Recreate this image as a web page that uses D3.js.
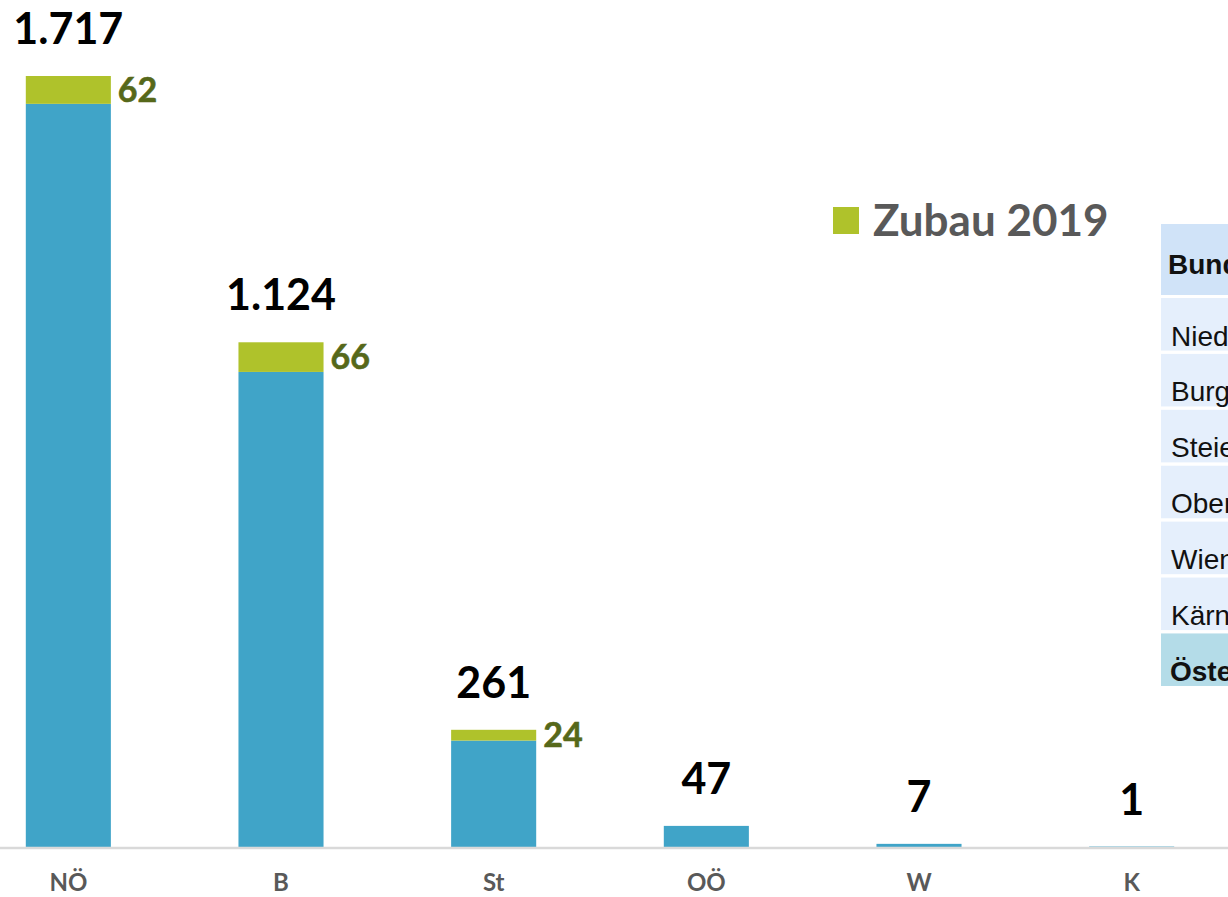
<!DOCTYPE html>
<html>
<head>
<meta charset="utf-8">
<script src="https://cdn.jsdelivr.net/npm/d3@7"></script>
<style>
    html, body { margin: 0; padding: 0; background: #ffffff; overflow: hidden; }
    svg { display: block; }
</style>
</head>
<body>
<svg id="chart"></svg>
<script>
// data
var categories = ["NÖ", "B", "St", "OÖ", "W", "K"];
var totals = [1717, 1124, 261, 47, 7, 1];
var zubau = [62, 66, 24, 0, 0, 0];
var legendLabel = "Zubau 2019";

// side table (cut off at the right edge in the original)
var tableHeader = "Bundesland";
var tableRows = ["Niederösterreich", "Burgenland", "Steiermark", "Oberösterreich", "Wien", "Kärnten"];
var tableTotal = "Österreich";

var width = 1228;
var height = 897;
var baseline = 847;

var deFormat = d3.formatLocale({
    decimal: ",",
    thousands: ".",
    grouping: [3],
    currency: ["", " €"]
}).format(",d");

var svg = d3.select("#chart")
    .attr("width", width)
    .attr("height", height);

// rows for the stack: the total minus the new part, then the new part
var rows = categories.map(function(c, i) {
    return { cat: c, bestand: totals[i] - zubau[i], zubau: zubau[i], total: totals[i] };
});

var series = d3.stack().keys(["bestand", "zubau"])(rows);

var x = d3.scaleBand()
    .domain(categories)
    .range([-38, 1238])
    .paddingInner(0.6)
    .paddingOuter(0.3);

var y = d3.scaleLinear()
    .domain([0, 1717])
    .range([baseline, 76]);

var colors = { bestand: "#40a4c8", zubau: "#afc22b" };

// bars
svg.append("g")
    .attr("class", "bars")
    .selectAll("g")
    .data(series).enter()
    .append("g")
    .attr("fill", d => colors[d.key])
    .selectAll("rect")
    .data(d => d.filter(p => p[1] > p[0])).enter()
    .append("rect")
    .attr("x", d => x(d.data.cat))
    .attr("y", d => y(d[1]))
    .attr("width", x.bandwidth())
    .attr("height", d => y(d[0]) - y(d[1]));

// x axis line + labels
var xAxis = svg.append("g")
    .attr("class", "axis axis--x")
    .attr("transform", "translate(0," + (baseline + 1) + ")")
    .call(d3.axisBottom(x).tickSize(0).tickPadding(26));

xAxis.select(".domain")
    .attr("d", "M0,0H" + width)
    .attr("stroke", "#d9d9d9")
    .attr("stroke-width", 2.5);

xAxis.selectAll("text")
    .attr("font-family", "Lato, 'Open Sans', sans-serif")
    .attr("font-weight", "bold")
    .attr("font-size", 24)
    .attr("fill", "#595959");

// total labels above each bar
svg.append("g")
    .selectAll("text")
    .data(rows).enter()
    .append("text")
    .attr("x", d => x(d.cat) + x.bandwidth() / 2)
    .attr("y", d => y(d.total) - 32)
    .attr("text-anchor", "middle")
    .attr("font-family", "Lato, 'Open Sans', sans-serif")
    .attr("font-weight", "bold")
    .attr("font-size", 43)
    .attr("fill", "#000000")
    .text(d => deFormat(d.total));

// new-capacity labels next to the green part
svg.append("g")
    .selectAll("text")
    .data(rows.filter(d => d.zubau > 0)).enter()
    .append("text")
    .attr("x", d => x(d.cat) + x.bandwidth() + 7)
    .attr("y", d => (y(d.total) + y(d.bestand)) / 2 + 12)
    .attr("font-family", "Lato, 'Open Sans', sans-serif")
    .attr("font-weight", "bold")
    .attr("font-size", 34)
    .attr("fill", "#56681a")
    .attr("stroke", "#56681a")
    .attr("stroke-width", 0.6)
    .text(d => deFormat(d.zubau));

// legend
var legend = svg.append("g")
    .attr("transform", "translate(833,207)");
legend.append("rect")
    .attr("width", 26)
    .attr("height", 27)
    .attr("fill", colors.zubau);
legend.append("text")
    .attr("x", 40)
    .attr("y", 29)
    .attr("font-family", "Lato, 'Open Sans', sans-serif")
    .attr("font-weight", "bold")
    .attr("font-size", 44)
    .attr("fill", "#595959")
    .text(legendLabel);

// table on the right, cut by the edge of the picture like in the original
var table = svg.append("g")
    .attr("transform", "translate(1161,0)");

table.append("rect")
    .attr("y", 224)
    .attr("width", 200)
    .attr("height", 71)
    .attr("fill", "#d0e3f8");
table.append("text")
    .attr("x", 7)
    .attr("y", 274)
    .attr("font-family", "'Liberation Sans', Arial, sans-serif")
    .attr("font-weight", "bold")
    .attr("font-size", 28)
    .attr("fill", "#111111")
    .text(tableHeader);

var rowY = d3.scaleBand()
    .domain(d3.range(tableRows.length + 1))
    .range([298, 686])
    .paddingInner(0.06);

var allRows = tableRows.concat([tableTotal]);

var tr = table.selectAll(".trow")
    .data(allRows).enter()
    .append("g")
    .attr("class", "trow")
    .attr("transform", (d, i) => "translate(0," + rowY(i) + ")");

tr.append("rect")
    .attr("width", 200)
    .attr("height", rowY.bandwidth())
    .attr("fill", (d, i) => i === tableRows.length ? "#b4dce8" : "#e5effc");

tr.append("text")
    .attr("x", (d, i) => i === tableRows.length ? 9 : 10)
    .attr("y", rowY.bandwidth() - 5)
    .attr("font-family", "'Liberation Sans', Arial, sans-serif")
    .attr("font-weight", (d, i) => i === tableRows.length ? "bold" : "normal")
    .attr("font-size", 28)
    .attr("fill", "#111111")
    .text(d => d);
</script>
</body>
</html>
